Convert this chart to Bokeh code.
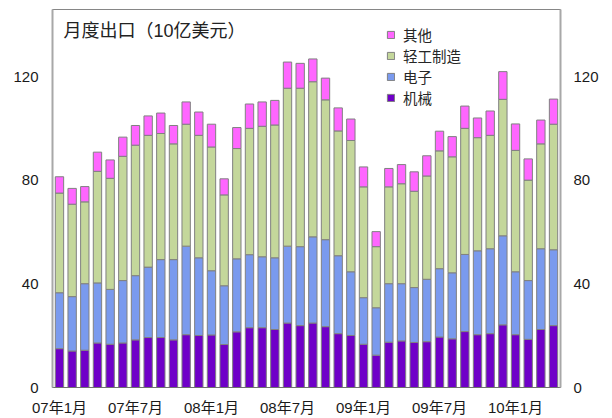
from bokeh.plotting import figure
from bokeh.models import (ColumnDataSource, LinearAxis, FixedTicker, Range1d,
                          Legend, LegendItem, Label)
from bokeh.embed import file_html
from bokeh.resources import INLINE

# ---- data (10亿美元) ----
months = [f"{y:02d}年{m}月" for y in (7, 8, 9, 10) for m in range(1, 13)][:40]
machinery = [15.0, 14.1, 14.4, 17.2, 16.7, 17.2, 18.4, 19.3, 19.3, 18.4,
             20.4, 20.1, 20.3, 16.6, 21.5, 23.1, 23.1, 22.4, 24.9, 23.9,
             24.9, 23.5, 20.8, 20.1, 16.7, 12.5, 17.5, 18.0, 17.4, 17.7,
             19.5, 18.8, 21.6, 20.4, 20.8, 24.2, 20.4, 18.6, 22.4, 23.9]
electronics = [21.6, 21.0, 25.7, 23.2, 21.2, 24.1, 24.8, 27.2, 30.1, 31.0,
               34.2, 30.0, 24.8, 22.7, 28.2, 28.2, 27.4, 27.7, 29.7, 30.5,
               33.3, 33.6, 30.1, 24.6, 18.0, 18.3, 22.6, 22.1, 21.2, 24.1,
               26.4, 25.5, 29.8, 32.4, 32.8, 34.4, 24.3, 22.7, 31.2, 29.3]
light_mfg = [38.5, 35.7, 31.6, 43.1, 42.9, 48.0, 50.4, 50.9, 48.7, 44.7,
             47.1, 47.3, 47.8, 35.1, 42.6, 48.8, 50.4, 51.3, 61.0, 61.2,
             59.9, 54.0, 48.2, 50.7, 42.8, 23.6, 37.4, 38.6, 37.2, 39.9,
             45.5, 44.8, 48.7, 43.7, 43.8, 52.7, 46.9, 38.8, 40.5, 48.5]
other = [6.3, 6.1, 5.9, 7.4, 7.1, 7.4, 7.6, 7.5, 7.9, 7.1,
         8.6, 9.0, 8.8, 6.2, 8.1, 9.4, 9.4, 9.5, 10.1, 9.6,
         8.8, 8.4, 8.9, 8.3, 7.7, 5.8, 7.1, 7.4, 7.5, 7.8,
         7.6, 7.8, 8.6, 7.6, 9.4, 10.7, 10.2, 8.2, 9.2, 9.7]
series_names = ["机械", "电子", "轻工制造", "其他"]
colors = ["#6F00C8", "#7A9AEE", "#C4D79B", "#FF66FF"]
tick_labels = ["07年1月", "07年7月", "08年1月", "08年7月", "09年1月", "09年7月", "10年1月"]
y_ticks = [0, 40, 80, 120]
title_text = "月度出口（10亿美元）"

x = list(range(len(months)))
source = ColumnDataSource(dict(x=x, month=months, machinery=machinery,
                               electronics=electronics, light=light_mfg, other=other))

FONT = "'Liberation Sans', 'Noto Sans CJK SC', sans-serif"

p = figure(width=604, height=418, output_backend="svg", toolbar_location=None,
           x_range=Range1d(-0.55, 39.55), y_range=Range1d(0, 146),
           min_border_left=52, min_border_right=44, min_border_top=9,
           min_border_bottom=29)
p.background_fill_color = "white"
p.border_fill_color = "white"
p.outline_line_color = "#868686"
p.outline_line_width = 1
p.grid.visible = False

renderers = p.vbar_stack(["machinery", "electronics", "light", "other"], x="x",
                         width=0.66, color=colors, line_color="#808080",
                         line_width=1, source=source)

# axes
xt = [months.index(t) for t in tick_labels]
p.xaxis.ticker = FixedTicker(ticks=xt)
p.xaxis.major_label_overrides = {i: t for i, t in zip(xt, tick_labels)}
p.yaxis.ticker = FixedTicker(ticks=y_ticks)
right = LinearAxis(ticker=FixedTicker(ticks=y_ticks))
p.add_layout(right, "right")

for ax in p.axis:
    ax.major_tick_out = 0
    ax.major_tick_in = 0
    ax.minor_tick_out = 0
    ax.minor_tick_in = 0
    ax.axis_line_color = None
    ax.major_label_text_font = FONT
    ax.major_label_text_font_size = "15px"
    ax.major_label_text_color = "#1a1a1a"
p.xaxis.major_label_standoff = 11
p.yaxis.major_label_standoff = 14
right.major_label_standoff = 13
p.xaxis.axis_line_color = "#707070"
p.yaxis.axis_line_color = "#a8a8a8"
p.yaxis.axis_line_width = 2

# title inside the frame
p.add_layout(Label(x=0.32, y=141.5, text=title_text, text_baseline="top",
                   text_font=FONT, text_font_size="18px", text_color="#222222"))

# legend (top item = 其他)
items = [LegendItem(label=n, renderers=[r]) for n, r in zip(series_names, renderers)][::-1]
legend = Legend(items=items, location=(334, 279), orientation="vertical",
                padding=0, margin=0, spacing=0, label_height=18,
                glyph_width=9, glyph_height=9, label_standoff=8,
                label_text_font=FONT, label_text_font_size="14.5px",
                label_text_color="#262626", border_line_color=None,
                background_fill_alpha=0)
p.add_layout(legend, "center")

open("out.html", "w").write(file_html(p, INLINE))
